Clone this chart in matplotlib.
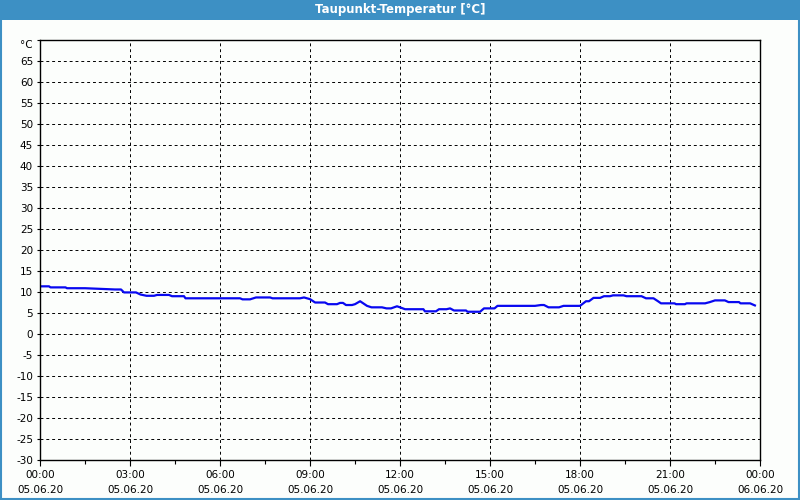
import matplotlib
matplotlib.use('Agg')
import matplotlib.pyplot as plt
from matplotlib.patches import Rectangle

# Taupunkt values (hours since 05.06.20 00:00, deg C)
hours = [0, 0.3, 0.35, 0.85, 0.9, 1.5, 2.5, 2.7, 2.8, 3.2, 3.35, 3.55, 3.8, 3.9,
         4.3, 4.4, 4.8, 4.85, 6.67, 6.75, 7.0, 7.2, 7.67, 7.75, 8.67, 8.8, 9.0,
         9.17, 9.5, 9.6, 9.9, 10.0, 10.1, 10.2, 10.4, 10.5, 10.67, 10.9, 11.05,
         11.4, 11.55, 11.7, 11.9, 12.0, 12.17, 12.78, 12.83, 13.2, 13.3, 13.55,
         13.67, 13.8, 14.2, 14.25, 14.67, 14.8, 15.15, 15.25, 16.5, 16.7, 16.8,
         16.95, 17.3, 17.45, 18.0, 18.2, 18.3, 18.45, 18.67, 18.8, 19.0, 19.1,
         19.45, 19.55, 20.05, 20.2, 20.45, 20.6, 20.7, 21.15, 21.2, 21.5, 21.55,
         22.17, 22.33, 22.5, 22.83, 22.95, 23.3, 23.35, 23.67, 23.83]
taupunkt = [11.35, 11.35, 11.1, 11.1, 10.9, 10.9, 10.6, 10.6, 9.9, 9.9, 9.4, 9.1,
            9.1, 9.3, 9.3, 9.0, 9.0, 8.5, 8.5, 8.25, 8.25, 8.7, 8.7, 8.5, 8.5,
            8.7, 8.3, 7.5, 7.5, 7.1, 7.1, 7.4, 7.4, 6.9, 6.9, 7.1, 7.8, 6.7,
            6.35, 6.35, 6.1, 6.1, 6.6, 6.35, 5.9, 5.9, 5.4, 5.4, 5.9, 5.9, 6.1,
            5.6, 5.6, 5.3, 5.3, 6.1, 6.1, 6.7, 6.7, 6.9, 6.9, 6.35, 6.35, 6.7,
            6.7, 7.8, 7.8, 8.6, 8.6, 9.0, 9.0, 9.2, 9.2, 9.0, 9.0, 8.5, 8.5, 7.8,
            7.3, 7.3, 7.1, 7.1, 7.3, 7.3, 7.6, 8.0, 8.0, 7.6, 7.6, 7.3, 7.3, 6.8]

x_ticks = [0, 3, 6, 9, 12, 15, 18, 21, 24]
x_labels = ['00:00\n05.06.20', '03:00\n05.06.20', '06:00\n05.06.20', '09:00\n05.06.20',
            '12:00\n05.06.20', '15:00\n05.06.20', '18:00\n05.06.20', '21:00\n05.06.20',
            '00:00\n06.06.20']
y_ticks = list(range(-30, 75, 5))
y_labels = [str(v) for v in range(-30, 70, 5)] + ['°C']

bg = '#fcfefc'
blue_bar = '#3d90c4'

fig = plt.figure(figsize=(8, 5), dpi=100, facecolor=bg)
ax = fig.add_axes([0.05, 0.08, 0.90, 0.84], facecolor=bg)

ax.plot(hours, taupunkt, color='#0808f0', linewidth=1.6)

ax.set_xlim(0, 24)
ax.set_ylim(-30, 70)
ax.set_xticks(x_ticks)
ax.set_xticklabels(x_labels, linespacing=1.6)
ax.set_xticks([1.5, 4.5, 7.5, 10.5, 13.5, 16.5, 19.5, 22.5], minor=True)
ax.set_yticks(y_ticks)
ax.set_yticklabels(y_labels)
ax.tick_params(axis='both', labelsize=7.5, colors='black', length=4, width=0.8, direction='out')
ax.tick_params(axis='x', which='minor', length=3, width=0.8)
ax.tick_params(axis='y', length=2, pad=3)
# the unit label sits a bit below the top edge
ax.get_yticklabels()[-1].set_va('top')

ax.grid(True, which='major', color='black', linestyle=(0, (3, 3)), linewidth=0.7)
for s in ax.spines.values():
    s.set_color('black')
    s.set_linewidth(1.0)

# header bar with title and blue frame
fig.patches.append(Rectangle((0, 0.96), 1, 0.04, transform=fig.transFigure,
                             facecolor=blue_bar, edgecolor='none', zorder=0))
fig.patches.append(Rectangle((0.001, 0.002), 0.998, 0.996, transform=fig.transFigure,
                             facecolor='none', edgecolor=blue_bar, linewidth=1.5, zorder=5))
fig.text(0.5, 0.98, 'Taupunkt-Temperatur [°C]', color='white', fontsize=8.5,
         fontweight='bold', ha='center', va='center')

fig.savefig('out.png', dpi=100, facecolor=bg)
